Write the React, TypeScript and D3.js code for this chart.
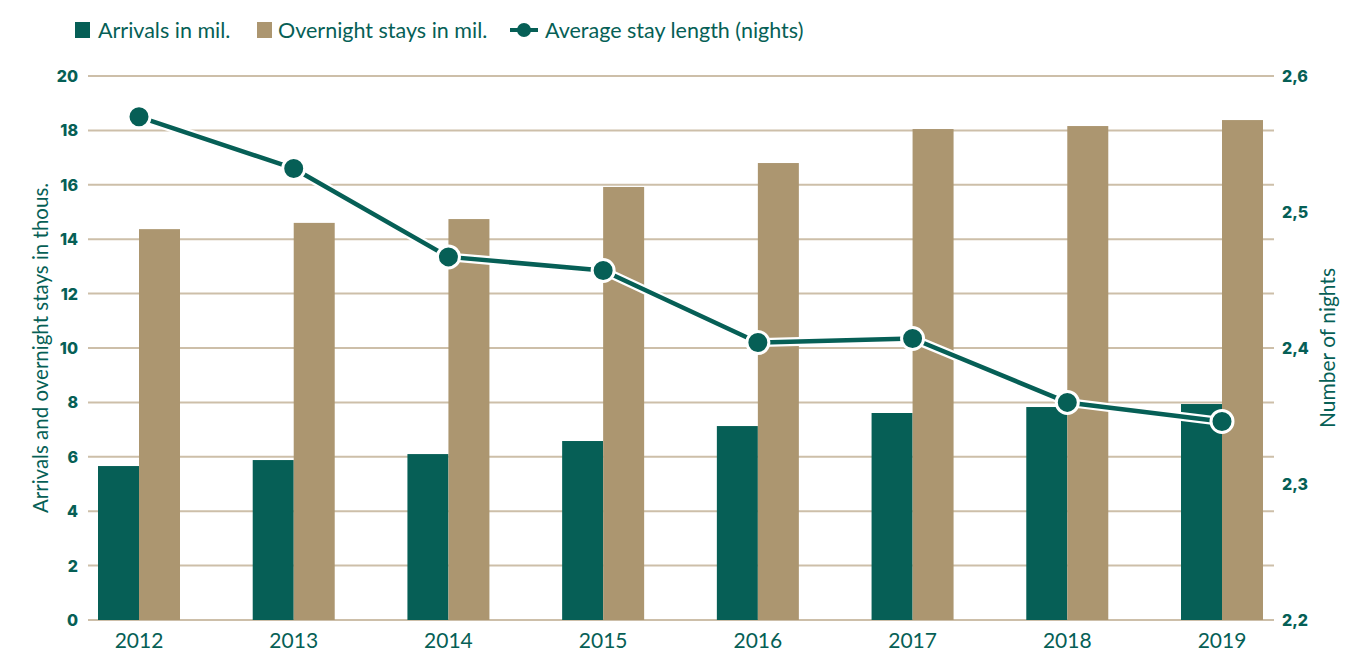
import React from "react";
import * as d3 from "d3";

const years = ["2012", "2013", "2014", "2015", "2016", "2017", "2018", "2019"];
const arrivals = [5.66, 5.88, 6.1, 6.58, 7.13, 7.61, 7.83, 7.94];
const overnight = [14.37, 14.6, 14.74, 15.92, 16.8, 18.05, 18.16, 18.38];
const avgStay = [2.57, 2.532, 2.467, 2.457, 2.404, 2.407, 2.36, 2.346];
const leftTicks = [0, 2, 4, 6, 8, 10, 12, 14, 16, 18, 20];
const rightTicks = [2.2, 2.3, 2.4, 2.5, 2.6];

const GREEN = "#065f56";
const TAN = "#ac9670";
const GRID = "#cdbfa9";

export default function App() {
  const x = d3.scalePoint<string>().domain(years).range([139, 1222]);
  const yL = d3.scaleLinear().domain([0, 20]).range([620, 76]);
  const yR = d3.scaleLinear().domain([2.2, 2.6]).range([620, 76]);
  const bw = 41;
  const line = d3
    .line<number>()
    .x((_, i) => x(years[i]) as number)
    .y((d) => yR(d));
  const path = line(avgStay) || "";

  return (
    <div style={{ position: "absolute", left: 0, top: 0 }}>
      <svg width={1345} height={653} style={{ display: "block" }}>
        <rect width={1345} height={653} fill="#fff" />
        {/* legend */}
        <g fontFamily="Lato, sans-serif" fontSize={21.5} fill={GREEN}>
          <rect x={75} y={22} width={15} height={16} fill={GREEN} />
          <text x={98} y={38}>Arrivals in mil.</text>
          <rect x={257} y={22} width={15} height={16} fill={TAN} />
          <text x={278} y={38}>Overnight stays in mil.</text>
          <line x1={510} x2={538} y1={30} y2={30} stroke={GREEN} strokeWidth={4} />
          <circle cx={524} cy={30} r={7} fill={GREEN} />
          <text x={545} y={38}>Average stay length (nights)</text>
        </g>
        {/* grid */}
        {leftTicks.map((t) => (
          <line key={t} x1={88} x2={1274} y1={yL(t)} y2={yL(t)} stroke={GRID} strokeWidth={2} />
        ))}
        {/* left ticks */}
        <g fontFamily="Inter, sans-serif" fontWeight={800} fontSize={16} fill={GREEN} textAnchor="end">
          {leftTicks.map((t) => (
            <text key={t} x={78} y={yL(t) + 6}>{t}</text>
          ))}
        </g>
        <g fontFamily="Inter, sans-serif" fontWeight={800} fontSize={16} fill={GREEN}>
          {rightTicks.map((t) => (
            <text key={t} x={1282} y={yR(t) + 6}>{t.toFixed(1).replace(".", ",")}</text>
          ))}
        </g>
        {/* axis titles */}
        <text
          transform={`translate(48,348) rotate(-90)`}
          textAnchor="middle"
          fontFamily="Lato, sans-serif"
          fontSize={20.5}
          fill={GREEN}
        >
          Arrivals and overnight stays in thous.
        </text>
        <text
          transform={`translate(1335,348) rotate(-90)`}
          textAnchor="middle"
          fontFamily="Lato, sans-serif"
          fontSize={21}
          fill={GREEN}
        >
          Number of nights
        </text>
        {/* bars */}
        {years.map((yr, i) => {
          const cx = x(yr) as number;
          return (
            <g key={yr}>
              <rect x={cx - bw} y={yL(arrivals[i])} width={bw} height={yL(0) - yL(arrivals[i])} fill={GREEN} />
              <rect x={cx} y={yL(overnight[i])} width={bw} height={yL(0) - yL(overnight[i])} fill={TAN} />
            </g>
          );
        })}
        {/* x labels */}
        <g fontFamily="Lato, sans-serif" fontSize={21} fill={GREEN} textAnchor="middle">
          {years.map((yr) => (
            <text key={yr} x={x(yr) as number} y={648}>{yr}</text>
          ))}
        </g>
        {/* line */}
        <path d={path} fill="none" stroke="#fff" strokeWidth={9} strokeLinejoin="round" />
        <path d={path} fill="none" stroke={GREEN} strokeWidth={4.5} strokeLinejoin="round" />
        {avgStay.map((v, i) => (
          <circle key={i} cx={x(years[i]) as number} cy={yR(v)} r={11} fill={GREEN} stroke="#fff" strokeWidth={3} />
        ))}
      </svg>
    </div>
  );
}
